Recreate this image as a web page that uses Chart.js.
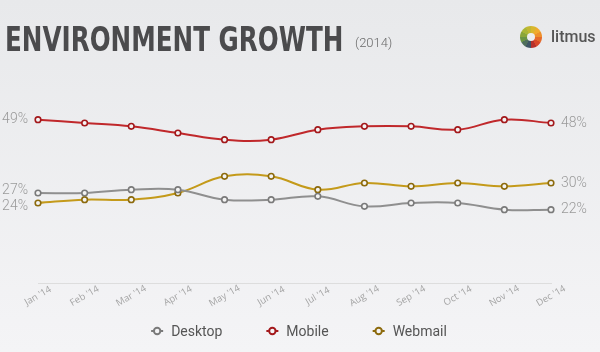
<!DOCTYPE html>
<html>
<head>
<meta charset="utf-8">
<script src="https://cdn.jsdelivr.net/npm/chart.js@4.4.1/dist/chart.umd.min.js"></script>
<style>
    html, body { margin: 0; padding: 0; }
    body {
        width: 600px;
        height: 352px;
        overflow: hidden;
        position: relative;
        background: linear-gradient(#e8e9eb, #f4f4f6);
        font-family: Roboto, sans-serif;
    }
    #growthChart { position: absolute; left: 0; top: 0; }
    .title {
        position: absolute;
        left: 5px;
        top: 22px;
        font: bold 33px "DejaVu Sans Condensed", sans-serif;
        color: #4b4b4d;
        white-space: nowrap;
        line-height: 36px;
        transform: scaleX(0.83);
        transform-origin: left top;
    }
    .subtitle {
        position: absolute;
        left: 355px;
        top: 35px;
        font: 300 13px Roboto, sans-serif;
        color: #6a6a6a;
        white-space: nowrap;
    }
    .logo-wheel {
        position: absolute;
        left: 520px;
        top: 26px;
        width: 22px;
        height: 22px;
        border-radius: 50%;
        background: conic-gradient(#d8b72e 0deg 30deg, #f0aa2c 30deg 60deg, #ee8f2b 60deg 90deg,
            #e56a2a 90deg 120deg, #d9482a 120deg 150deg, #b8312c 150deg 180deg,
            #3f5566 180deg 210deg, #4f6f5c 210deg 240deg, #6a9444 240deg 270deg,
            #8aa63a 270deg 300deg, #a9b636 300deg 330deg, #c2b832 330deg 360deg);
    }
    .logo-wheel::after {
        content: "";
        position: absolute;
        left: 7px;
        top: 7px;
        width: 8px;
        height: 8px;
        border-radius: 50%;
        background: #eceded;
    }
    .logo-text {
        position: absolute;
        left: 551px;
        top: 27px;
        font: 500 16px Roboto, sans-serif;
        color: #555;
    }
</style>
</head>
<body>
<canvas id="growthChart" width="600" height="352"></canvas>
<div class="title">ENVIRONMENT GROWTH</div>
<div class="subtitle">(2014)</div>
<div class="logo-wheel"></div>
<div class="logo-text">litmus</div>
<script>
// data
var labels = ["Jan '14", "Feb '14", "Mar '14", "Apr '14", "May '14", "Jun '14",
    "Jul '14", "Aug '14", "Sep '14", "Oct '14", "Nov '14", "Dec '14"];
var seriesNames = ["Desktop", "Mobile", "Webmail"];
var desktopData = [27, 27, 28, 28, 25, 25, 26, 23, 24, 24, 22, 22];
var mobileData = [49, 48, 47, 45, 43, 43, 46, 47, 47, 46, 49, 48];
var webmailData = [24, 25, 25, 27, 32, 32, 28, 30, 29, 30, 29, 30];

var lineColors = ["#8f8f8f", "#c0282b", "#c49a1a"];
var legendColors = ["#7a7a7a", "#a3181b", "#8c6a0c"];

// label persen di ujung kiri dan kanan garis
var endLabels = {
    id: "endLabels",
    afterDatasetsDraw: function (chart) {
        var ctx = chart.ctx;
        var yScale = chart.scales.y;
        var area = chart.chartArea;
        ctx.save();
        ctx.font = "300 14px Roboto";
        ctx.fillStyle = "#9a9a9a";
        ctx.textBaseline = "middle";
        [0, labels.length - 1].forEach(function (idx) {
            var items = chart.data.datasets.map(function (ds) {
                var v = ds.data[idx];
                return { text: v + "%", y: yScale.getPixelForValue(v) };
            });
            items.sort(function (a, b) { return a.y - b.y; });
            for (var i = 1; i < items.length; i++) {
                var diff = items[i].y - items[i - 1].y;
                if (diff < 16) {
                    var d = (16 - diff) / 2;
                    items[i - 1].y -= d;
                    items[i].y += d;
                }
            }
            ctx.textAlign = idx === 0 ? "right" : "left";
            var x = idx === 0 ? area.left - 10 : area.right + 10;
            items.forEach(function (it) {
                ctx.fillText(it.text, x, it.y);
            });
        });
        ctx.restore();
    },
};

// label bulan miring, di tengah titik
var monthLabels = {
    id: "monthLabels",
    afterDraw: function (chart) {
        var ctx = chart.ctx;
        var xScale = chart.scales.x;
        ctx.save();
        ctx.font = "9.5px 'Open Sans'";
        ctx.fillStyle = "#a4a4a4";
        ctx.textAlign = "center";
        ctx.textBaseline = "middle";
        labels.forEach(function (lbl, i) {
            ctx.save();
            ctx.translate(xScale.getPixelForValue(i), 296);
            ctx.rotate(-30 * Math.PI / 180);
            ctx.fillText(lbl, 0, 0);
            ctx.restore();
        });
        ctx.restore();
    },
};

// legend manual di bawah
var bottomLegend = {
    id: "bottomLegend",
    afterDraw: function (chart) {
        var ctx = chart.ctx;
        ctx.save();
        ctx.font = "14px Roboto";
        ctx.textBaseline = "middle";
        ctx.textAlign = "left";
        var gap = 50;
        var widths = chart.data.datasets.map(function (ds) {
            return 14 + ctx.measureText(ds.label).width;
        });
        var total = widths.reduce(function (a, b) { return a + b; }, 0) + gap * (widths.length - 1);
        var x = 296 - total / 2 + 6;
        var y = 331;
        chart.data.datasets.forEach(function (ds, i) {
            var c = legendColors[i];
            ctx.strokeStyle = c;
            ctx.lineWidth = 2;
            ctx.beginPath();
            ctx.moveTo(x - 6, y);
            ctx.lineTo(x - 3.5, y);
            ctx.moveTo(x + 3.5, y);
            ctx.lineTo(x + 6, y);
            ctx.stroke();
            ctx.beginPath();
            ctx.arc(x, y, 3.2, 0, Math.PI * 2);
            ctx.stroke();
            ctx.fillStyle = "#555555";
            ctx.fillText(ds.label, x + 14, y + 1);
            x += widths[i] + gap;
        });
        ctx.restore();
    },
};

var datasets = [desktopData, mobileData, webmailData].map(function (arr, i) {
    return {
        label: seriesNames[i],
        data: arr,
        borderColor: lineColors[i],
        backgroundColor: lineColors[i],
        borderWidth: 2,
        tension: 0.4,
        pointRadius: 2.8,
        pointBorderWidth: 1.6,
        pointBackgroundColor: "#f4f4f4",
        pointBorderColor: legendColors[i],
        fill: false,
    };
});

var ctx = document.getElementById("growthChart").getContext("2d");
var growthChart = new Chart(ctx, {
    type: "line",
    data: {
        labels: labels,
        datasets: datasets,
    },
    options: {
        responsive: false,
        animation: false,
        layout: {
            padding: { top: 83, left: 38, right: 49, bottom: 0 },
        },
        plugins: {
            legend: { display: false },
            tooltip: { enabled: false },
        },
        scales: {
            x: {
                offset: false,
                grid: { display: false, drawTicks: false },
                border: { display: true, color: "#dddddd", width: 1 },
                ticks: { display: false },
                afterFit: function (scale) {
                    scale.height = 69;
                },
            },
            y: {
                display: false,
                min: 0,
                max: 60,
            },
        },
    },
    plugins: [endLabels, monthLabels, bottomLegend],
});
</script>
</body>
</html>
